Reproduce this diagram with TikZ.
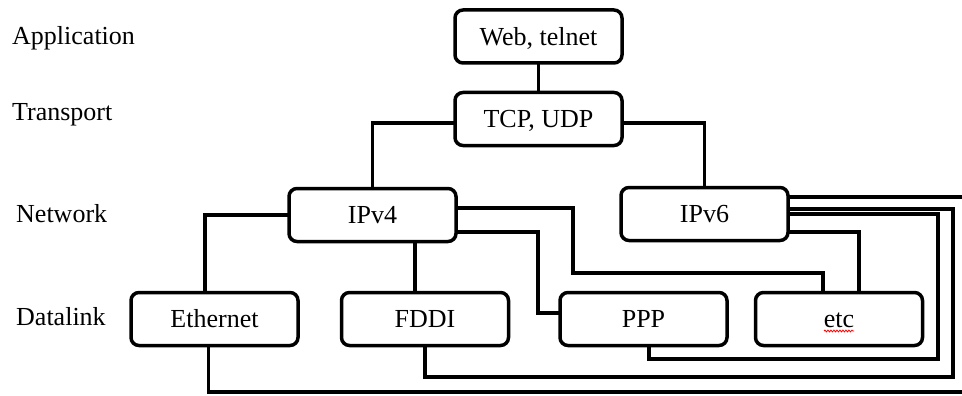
\documentclass[tikz,border=0pt]{standalone}
\usepackage{fontspec}
\setmainfont{Liberation Serif}
\usetikzlibrary{decorations.pathmorphing}

\tikzset{
  layerbox/.style={draw=black, line width=3.5pt, rounded corners=8pt,
    minimum width=167pt, minimum height=53pt, inner sep=0pt,
    text height=17.5pt, text depth=0pt, font=\fontsize{26}{30}\selectfont},
  layerlabel/.style={anchor=base west, inner sep=0pt,
    font=\fontsize{26}{30}\selectfont},
  link/.style={draw=black, line width=3.5pt, line cap=rect},
}

\begin{document}
\begin{tikzpicture}[x=1pt, y=-1pt]
  \useasboundingbox (0,0) rectangle (962,396);
  \clip (0,0) rectangle (962,396);

  % layer names
  \node[layerlabel] (lapp) at (12,45)  {Application};
  \node[layerlabel] (ltr)  at (12,121) {Transport};
  \node[layerlabel] (lnet) at (16,222) {Network};
  \node[layerlabel] (ldl)  at (16,325) {Datalink};

  % bend points for the routed connectors
  \coordinate (k1) at (573,273);
  \coordinate (k2) at (538,313);
  \coordinate (r1) at (980,197);
  \coordinate (r1b) at (980,392);
  \coordinate (r2) at (953,377);
  \coordinate (r3) at (938,359);

  % protocol boxes
  \node[layerbox] (web)  at (538.5,36.5) {Web, telnet};
  \node[layerbox] (tcp)  at (538.5,119)  {TCP, UDP};
  \node[layerbox] (ipv4) at (372.5,215)  {IPv4};
  \node[layerbox] (ipv6) at (704.5,214)  {IPv6};
  \node[layerbox] (eth)  at (214.5,319)  {Ethernet};
  \node[layerbox] (fddi) at (425,319)    {FDDI};
  \node[layerbox] (ppp)  at (643.5,319)  {PPP};
  \node[layerbox] (etc)  at (839,319)    {etc};

  % application / transport / network links
  \path[link] (web.south) -- (tcp.north);
  \path[link] ([yshift=-4pt]tcp.west) -| (ipv4.north);
  \path[link] ([yshift=-4pt]tcp.east) -| (ipv6.north);

  % IPv4 to datalinks
  \path[link] (ipv4.west) -| ([xshift=-9.5pt]eth.north);
  \path[link] ([xshift=42.5pt]ipv4.south) -- ([xshift=42.5pt]ipv4.south |- fddi.north);
  \path[link] ([yshift=7pt]ipv4.east) -| (k1) -| ([xshift=-16pt]etc.north);
  \path[link] ([yshift=-17pt]ipv4.east) -| (k2) -- ([yshift=6pt]ppp.west);

  % IPv6 to datalinks
  \path[link] ([yshift=17pt]ipv6.east) -- (r1) -- (r1b) -| ([xshift=-6pt]eth.south);
  \path[link] ([yshift=5pt]ipv6.east) -| (r2) -| (fddi.south);
  \path[link] (ipv6.east) -| (r3) -| ([xshift=5.5pt]ppp.south);
  \path[link] ([yshift=-18pt]ipv6.east) -| ([xshift=20pt]etc.north);

  % spelling mark under "etc"
  \draw[red, line width=0.8pt, decorate,
    decoration={snake, amplitude=0.9pt, segment length=3pt}]
    (824,331) -- (854,331);
\end{tikzpicture}
\end{document}
